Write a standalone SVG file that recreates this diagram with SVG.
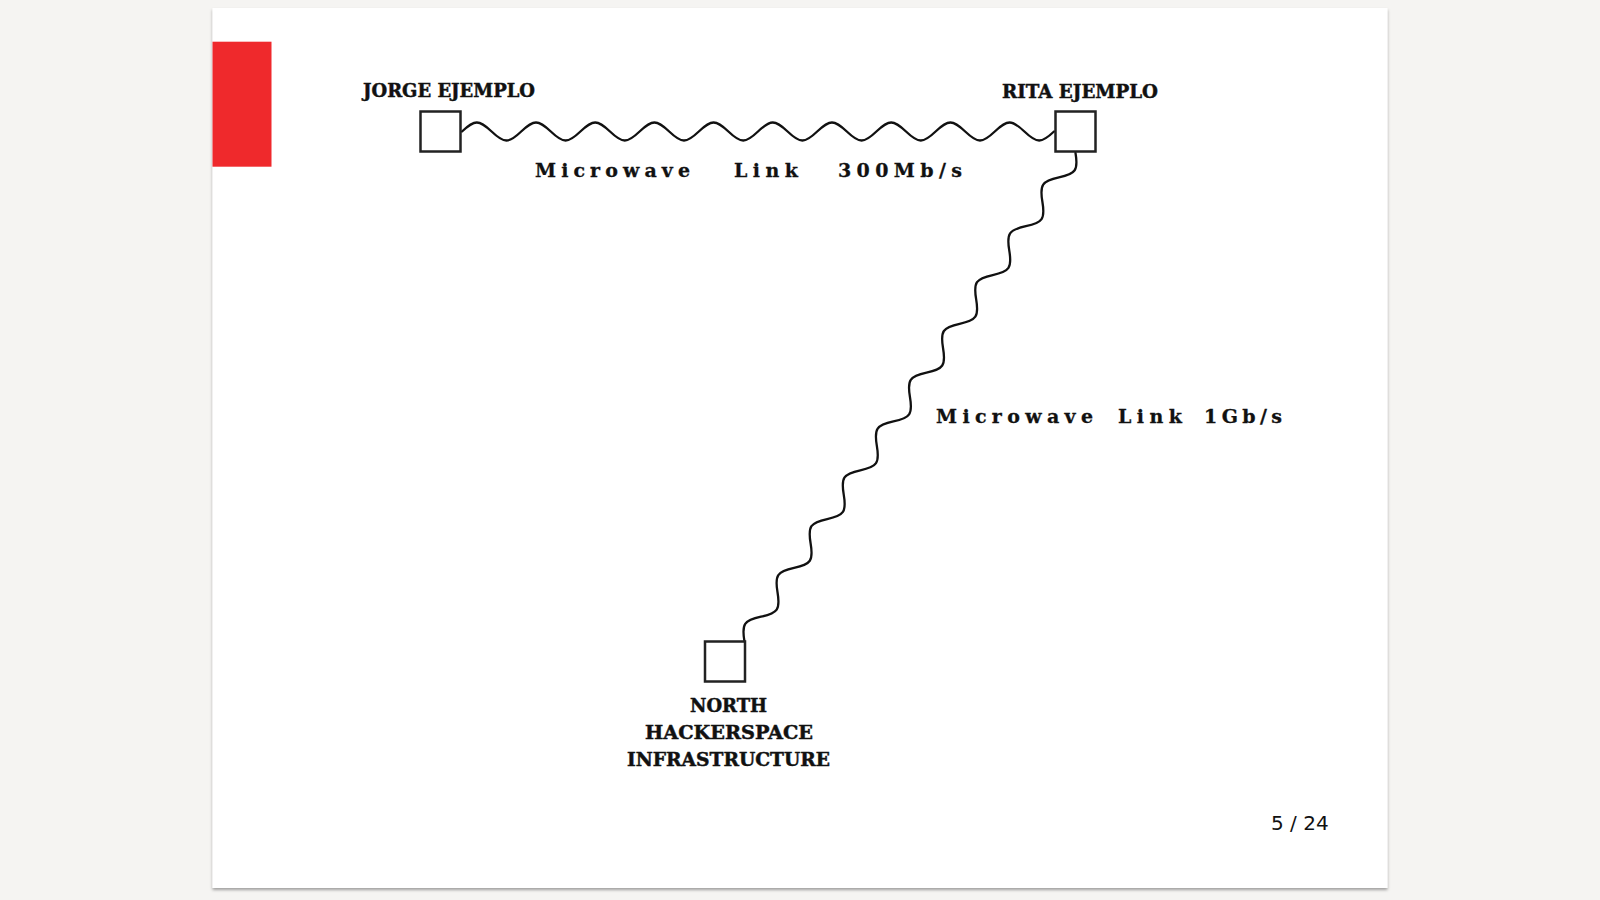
<svg xmlns="http://www.w3.org/2000/svg" width="1600" height="900" viewBox="0 0 1600 900">
  <defs>
    <filter id="shadow" x="-5%" y="-5%" width="110%" height="110%">
      <feDropShadow dx="0" dy="2" stdDeviation="1.5" flood-color="#000" flood-opacity="0.35"/>
    </filter>
    <style>
      .node { fill: #ffffff; stroke: #222222; stroke-width: 2.5; }
      .wave { fill: none; stroke: #111111; stroke-width: 2.3; stroke-linecap: round; }
      .name { font-family: "DejaVu Serif", "Liberation Serif", serif; font-weight: bold; font-size: 19px; fill: #111111; stroke: #111111; stroke-width: 0.5; }
      .link { font-family: "DejaVu Serif", "Liberation Serif", serif; font-weight: bold; font-size: 19px; fill: #111111; stroke: #111111; stroke-width: 0.3; }
      .page { font-family: "DejaVu Sans", "Liberation Sans", sans-serif; font-size: 20px; fill: #111111; }
    </style>
  </defs>
  <rect x="0" y="0" width="1600" height="900" fill="#f5f4f2"/>
  <rect x="212.5" y="8" width="1175" height="880" fill="#ffffff" filter="url(#shadow)"/>
  <rect x="212.5" y="41.7" width="59" height="125" fill="#ef292c"/>

  <g id="connectors">
    <path id="link-jorge-rita" class="wave" d="M462 131.5 c12.56 -12 17.04 -12 29.6 0 s17.04 12 29.6 0 s17.04 -12 29.6 0 s17.04 12 29.6 0 s17.04 -12 29.6 0 s17.04 12 29.6 0 s17.04 -12 29.6 0 s17.04 12 29.6 0 s17.04 -12 29.6 0 s17.04 12 29.6 0 s17.04 -12 29.6 0 s17.04 12 29.6 0 s17.04 -12 29.6 0 s17.04 12 29.6 0 s17.04 -12 29.6 0 s17.04 12 29.6 0 s17.04 -12 29.6 0 s17.04 12 29.6 0 s17.04 -12 29.6 0 s17.04 12 29.6 0"/>
    <path id="link-rita-north" class="wave" transform="translate(1075.5 153) rotate(124.15)" d="M0 0 c12.51 -12 16.98 -12 29.49 0 s16.98 12 29.49 0 s16.98 -12 29.49 0 s16.98 12 29.49 0 s16.98 -12 29.49 0 s16.98 12 29.49 0 s16.98 -12 29.49 0 s16.98 12 29.49 0 s16.98 -12 29.49 0 s16.98 12 29.49 0 s16.98 -12 29.49 0 s16.98 12 29.49 0 s16.98 -12 29.49 0 s16.98 12 29.49 0 s16.98 -12 29.49 0 s16.98 12 29.49 0 s16.98 -12 29.49 0 s16.98 12 29.49 0 s16.98 -12 29.49 0 s16.98 12 29.49 0"/>
    <text class="link"><tspan x="535" y="177.3" textLength="155" lengthAdjust="spacing">Microwave</tspan><tspan x="734" y="177.3" textLength="64" lengthAdjust="spacing">Link</tspan><tspan x="838" y="177.3" textLength="124" lengthAdjust="spacing">300Mb/s</tspan></text>
    <text class="link"><tspan x="936" y="422.7" textLength="157" lengthAdjust="spacing">Microwave</tspan><tspan x="1118" y="422.7" textLength="64" lengthAdjust="spacing">Link</tspan><tspan x="1204" y="422.7" textLength="78" lengthAdjust="spacing">1Gb/s</tspan></text>
  </g>

  <g id="node-jorge">
    <rect class="node" x="420.5" y="111.5" width="40" height="40"/>
    <text class="name" x="363" y="97.3" textLength="172" lengthAdjust="spacingAndGlyphs">JORGE EJEMPLO</text>
  </g>

  <g id="node-rita">
    <rect class="node" x="1055.5" y="111.5" width="40" height="40"/>
    <text class="name" x="1002" y="98" textLength="156" lengthAdjust="spacingAndGlyphs">RITA EJEMPLO</text>
  </g>

  <g id="node-north">
    <rect class="node" x="705" y="641.5" width="40" height="40"/>
    <text class="name" font-size="20"><tspan x="690" y="711.7" textLength="77" lengthAdjust="spacingAndGlyphs">NORTH</tspan><tspan x="645" y="739.3" textLength="168" lengthAdjust="spacingAndGlyphs">HACKERSPACE</tspan><tspan x="627" y="766" textLength="203" lengthAdjust="spacingAndGlyphs">INFRASTRUCTURE</tspan></text>
  </g>

  <text class="page" x="1271" y="830">5 / 24</text>
</svg>
